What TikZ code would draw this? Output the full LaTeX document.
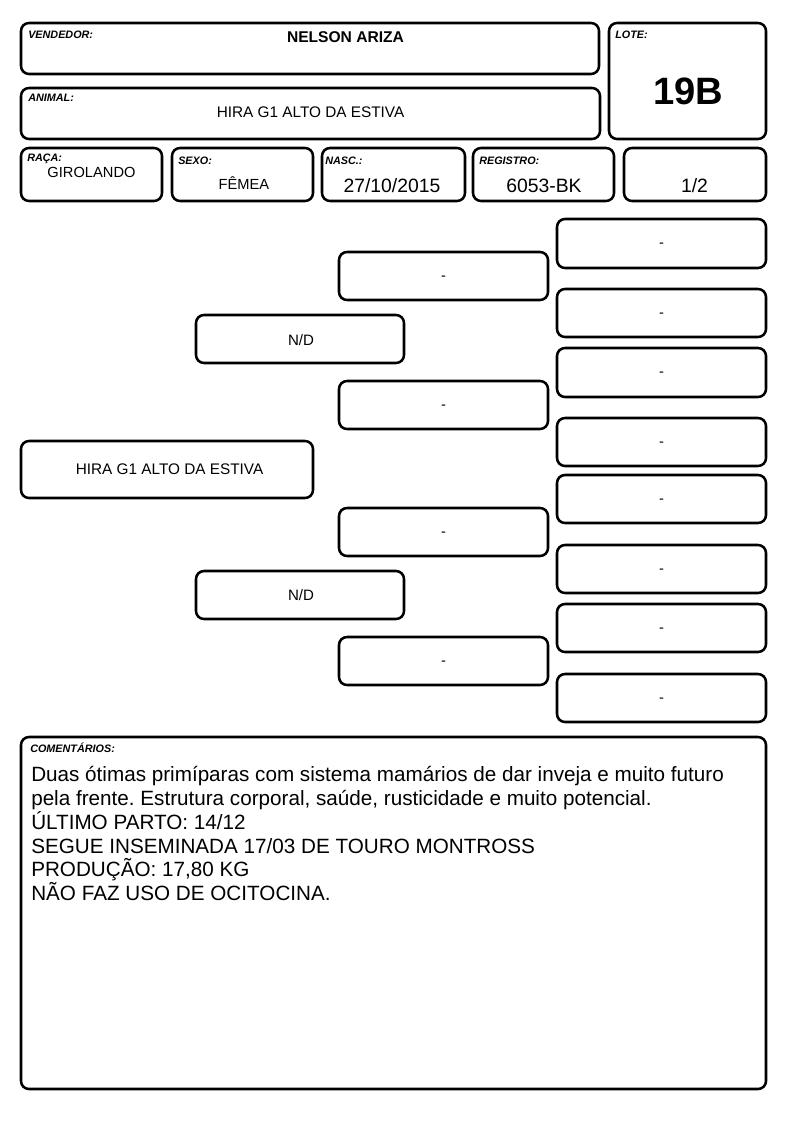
\documentclass[tikz,border=0pt]{standalone}
\usepackage{fontspec}
\setmainfont{Liberation Sans}
\usetikzlibrary{fit}
\frenchspacing
\tikzset{
  box/.style={draw=black, line width=1.9pt, rounded corners=6pt, inner sep=0pt, fill=white},
  lbl/.style={font=\fontsize{8.1}{9}\selectfont\bfseries\itshape, anchor=base west, inner sep=0pt},
  val/.style={font=\fontsize{11}{13}\selectfont, inner sep=0pt, anchor=base},
  bigval/.style={font=\fontsize{14.5}{17}\selectfont, inner sep=0pt, anchor=base},
  ped/.style={font=\fontsize{11.3}{13}\selectfont, inner sep=0pt, anchor=base},
  hyph/.style={font=\fontsize{11}{13}\selectfont, inner sep=0pt, anchor=base},
  com/.style={font=\fontsize{15.5}{18}\selectfont, inner sep=0pt, anchor=base west},
}
\begin{document}
\begin{tikzpicture}[x=0.75pt,y=-0.75pt]
\useasboundingbox[fill=white] (0,0) rectangle (794,1123);

% header boxes
\node[box, fit={(21,23) (599,74)}] (vend) {};
\node[box, fit={(21,88) (600,139)}] (anim) {};
\node[box, fit={(609,23) (766,139)}] (lote) {};
\node[box, fit={(21,148) (162,201)}] (raca) {};
\node[box, fit={(172,148) (313,201)}] (sexo) {};
\node[box, fit={(322,148) (465,201)}] (nasc) {};
\node[box, fit={(473,148) (614,201)}] (regi) {};
\node[box, fit={(624,148) (766,201)}] (pag) {};

\node[lbl] (lvend) at (28,39) {VENDEDOR:};
\node[val, font=\fontsize{11.7}{14}\selectfont\bfseries] (tvend) at (345.5,43) {NELSON ARIZA};
\node[lbl] (lanim) at (28,102) {ANIMAL:};
\node[val, font=\fontsize{11.5}{14}\selectfont] (tanim) at (310.5,118) {HIRA G1 ALTO DA ESTIVA};
\node[lbl] (llote) at (615,39) {LOTE:};
\node[val, font=\fontsize{28.6}{32}\selectfont\bfseries] (tlote) at (688,104.5) {19B};

\node[lbl] (lraca) at (27,162) {RAÇA:};
\node[val] (traca) at (91.5,177.5) {GIROLANDO};
\node[lbl] (lsexo) at (178,164.5) {SEXO:};
\node[val] (tsexo) at (244,189.5) {FÊMEA};
\node[lbl] (lnasc) at (325,164.5) {NASC.:};
\node[bigval] (tnasc) at (392,193) {27/10/2015};
\node[lbl] (lregi) at (479,164.5) {REGISTRO:};
\node[bigval] (tregi) at (544,193) {6053-BK};
\node[bigval] (tpag) at (694.5,193) {1/2};

% pedigree: column 3
\foreach \t/\b [count=\i] in {219/268,289/337,348/397,418/466,475/523,545/593,604/652,674/722}{
  \node[box, fit={(557,\t) (766,\b)}] (g\i) {};
  \node[hyph] (tg\i) at ([yshift=-3.2pt]g\i.center) {-};
}
% column 2
\foreach \t/\b [count=\i] in {252/300,381/429,508/556,637/685}{
  \node[box, fit={(339,\t) (548,\b)}] (p\i) {};
  \node[hyph] (tp\i) at ([yshift=-3.2pt]p\i.center) {-};
}
% column 1
\node[box, fit={(196,315) (404,363)}] (pai) {};
\node[ped] (tpai) at (301,345) {N/D};
\node[box, fit={(196,571) (404,619)}] (mae) {};
\node[ped] (tmae) at (301,600.5) {N/D};
% column 0
\node[box, fit={(21,441) (313,498)}] (self) {};
\node[ped, font=\fontsize{11.5}{14}\selectfont] (tself) at (169.5,474.5) {HIRA G1 ALTO DA ESTIVA};

% comments
\node[box, fit={(21,737) (766,1089)}] (coment) {};
\node[lbl] (lcom) at (30,752) {COMENTÁRIOS:};
\node[com] (c1) at (31,781) {Duas ótimas primíparas com sistema mamários de dar inveja e muito futuro};
\node[com] (c2) at (31,805.5) {pela frente. Estrutura corporal, saúde, rusticidade e muito potencial.};
\node[com] (c3) at (31,829) {ÚLTIMO PARTO: 14/12};
\node[com] (c4) at (31,853) {SEGUE INSEMINADA 17/03 DE TOURO MONTROSS};
\node[com] (c5) at (31,876.5) {PRODUÇÃO: 17,80 KG};
\node[com] (c6) at (31,900) {NÃO FAZ USO DE OCITOCINA.};
\end{tikzpicture}
\end{document}
